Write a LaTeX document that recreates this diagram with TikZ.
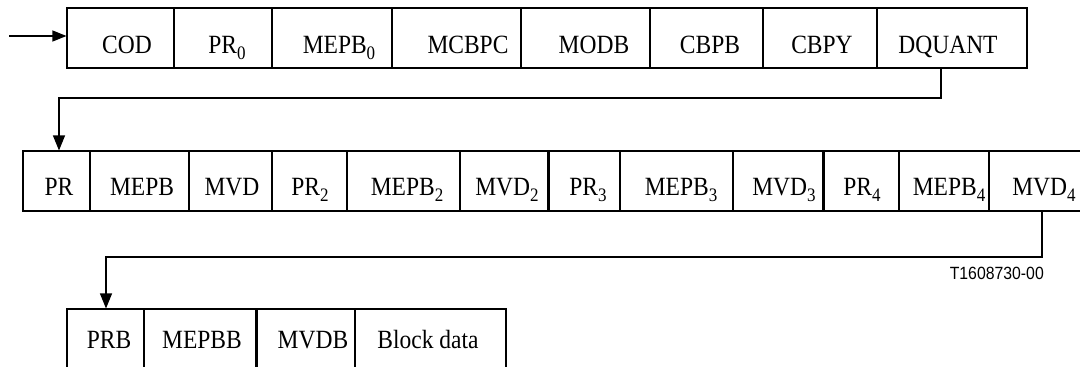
\documentclass[tikz,border=0pt]{standalone}
\usepackage{fontspec}
\setmainfont{Liberation Serif}
\newfontfamily\arialf{Liberation Sans}
\usetikzlibrary{arrows.meta}
\newcommand\sbs[1]{\raisebox{-6pt}{\fontsize{17}{17}\selectfont #1}}
\newcommand\tl[1]{\scalebox{1}[1.12]{#1}}
\tikzset{
  cell/.style={draw, line width=1.1pt, rectangle, inner sep=0pt, minimum height=60pt},
  txt/.style={anchor=base, inner sep=0pt, font=\fontsize{23.5}{26}\selectfont},
  arr/.style={line width=1.1pt, -{Triangle[length=15pt,width=12pt]}},
  thick divider/.style={line width=2pt}
}
\begin{document}
\begin{tikzpicture}[x=1pt,y=-1pt]
\useasboundingbox (0,0) rectangle (1080,367);
\clip (0,0) rectangle (1080,367);
% Row 1
\node[cell, minimum width=107pt] (cod) at (120.5,38) {};
\node[cell, minimum width=98pt] (pr0) at (223,38) {};
\node[cell, minimum width=120pt] (mepb0) at (332,38) {};
\node[cell, minimum width=129pt] (mcbpc) at (456.5,38) {};
\node[cell, minimum width=129pt] (modb) at (585.5,38) {};
\node[cell, minimum width=113pt] (cbpb) at (706.5,38) {};
\node[cell, minimum width=114pt] (cbpy) at (820,38) {};
\node[cell, minimum width=150pt] (dquant) at (952,38) {};
\node[txt] (codt) at (127,53) {\tl{COD}};
\node[txt] (pr0t) at (227,53) {\tl{PR\sbs{0}}};
\node[txt] (mepb0t) at (339,53) {\tl{MEPB\sbs{0}}};
\node[txt] (mcbpct) at (468,53) {\tl{MCBPC}};
\node[txt] (modbt) at (594,53) {\tl{MODB}};
\node[txt] (cbpbt) at (710,53) {\tl{CBPB}};
\node[txt] (cbpyt) at (822,53) {\tl{CBPY}};
\node[txt] (dquantt) at (948,53) {\tl{DQUANT}};
% Row 2
\node[cell, minimum width=67pt] (pr) at (56.5,181) {};
\node[cell, minimum width=99pt] (mepb) at (139.5,181) {};
\node[cell, minimum width=83pt] (mvd) at (230.5,181) {};
\node[cell, minimum width=75pt] (pr2) at (309.5,181) {};
\node[cell, minimum width=113pt] (mepb2) at (403.5,181) {};
\node[cell, minimum width=89pt] (mvd2) at (504.5,181) {};
\node[cell, minimum width=71pt] (pr3) at (584.5,181) {};
\node[cell, minimum width=113pt] (mepb3) at (676.5,181) {};
\node[cell, minimum width=91pt] (mvd3) at (778.5,181) {};
\node[cell, minimum width=75pt] (pr4) at (861.5,181) {};
\node[cell, minimum width=90pt] (mepb4) at (944,181) {};
\node[cell, minimum width=100pt] (mvd4) at (1039,181) {};
\draw[thick divider] (pr3.north west) -- (pr3.south west);
\draw[thick divider] (pr4.north west) -- (pr4.south west);
\node[txt] (prt) at (59,195) {\tl{PR}};
\node[txt] (mepbt) at (142,195) {\tl{MEPB}};
\node[txt] (mvdt) at (232,195) {\tl{MVD}};
\node[txt] (pr2t) at (310,195) {\tl{PR\sbs{2}}};
\node[txt] (mepb2t) at (407,195) {\tl{MEPB\sbs{2}}};
\node[txt] (mvd2t) at (507,195) {\tl{MVD\sbs{2}}};
\node[txt] (pr3t) at (588,195) {\tl{PR\sbs{3}}};
\node[txt] (mepb3t) at (681,195) {\tl{MEPB\sbs{3}}};
\node[txt] (mvd3t) at (784,195) {\tl{MVD\sbs{3}}};
\node[txt] (pr4t) at (862,195) {\tl{PR\sbs{4}}};
\node[txt] (mepb4t) at (949,195) {\tl{MEPB\sbs{4}}};
\node[txt] (mvd4t) at (1044,195) {\tl{MVD\sbs{4}}};
% Row 3
\node[cell, minimum width=77pt, minimum height=70pt] (prb) at (105.5,344) {};
\node[cell, minimum width=113pt, minimum height=70pt] (mepbb) at (200.5,344) {};
\node[cell, minimum width=98pt, minimum height=70pt] (mvdb) at (306,344) {};
\node[cell, minimum width=151pt, minimum height=70pt] (block) at (430.5,344) {};
\draw[thick divider] (mvdb.north west) -- (mvdb.south west);
\node[txt] (prbt) at (109,348) {\tl{PRB}};
\node[txt] (mepbbt) at (202,348) {\tl{MEPBB}};
\node[txt] (mvdbt) at (313,348) {\tl{MVDB}};
\node[txt] (blockt) at (428,348) {\tl{Block data}};
% Connectors
\coordinate (in) at (9,36);
\draw[arr, -{Triangle[length=14pt,width=11pt]}] (in) -- (in -| cod.west);
\coordinate (c1) at (941,98);
\coordinate (c2) at (59,98);
\draw[arr] (c1 |- dquant.south) -- (c1) -- (c2) -- (c2 |- pr.north);
\coordinate (d1) at (1042,257);
\coordinate (d2) at (106,257);
\draw[arr] (d1 |- mvd4.south) -- (d1) -- (d2) -- (d2 |- prb.north);
% Figure label
\node[anchor=base east, inner sep=0pt, font=\arialf\fontsize{15.8}{18}\selectfont] (fig) at (1044,279) {\tl{T1608730-00}};
\end{tikzpicture}
\end{document}
